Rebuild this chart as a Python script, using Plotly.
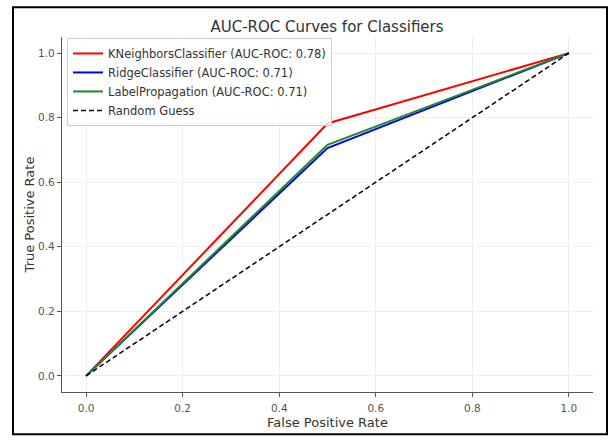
import plotly.graph_objects as go

# Data
classifiers = ["KNeighborsClassifier", "RidgeClassifier", "LabelPropagation"]
auc_scores = [0.78, 0.71, 0.71]
fpr_values = [
    [0.0, 0.5, 1.0],
    [0.0, 0.5, 1.0],
    [0.0, 0.5, 1.0],
]
tpr_values = [
    [0.0, 0.782, 1.0],
    [0.0, 0.706, 1.0],
    [0.0, 0.716, 1.0],
]
colors = ["#ff0000", "#0000ff", "#1f8a1f"]
random_x = [0.0, 1.0]
random_y = [0.0, 1.0]
tick_vals = [0.0, 0.2, 0.4, 0.6, 0.8, 1.0]

fig = go.Figure()
for name, auc, fx, ty, c in zip(classifiers, auc_scores, fpr_values, tpr_values, colors):
    fig.add_trace(go.Scatter(
        x=fx, y=ty, mode="lines",
        name=f"{name} (AUC-ROC: {auc:.2f})",
        line=dict(color=c, width=2),
    ))
fig.add_trace(go.Scatter(
    x=random_x, y=random_y, mode="lines", name="Random Guess",
    line=dict(color="black", width=1.5, dash="5px,3px"),
))

# plot area pixels: x 62..593, y 37..406
L, R, T, B = 62, 17, 37, 34
W, H = 610, 440
pw, ph = W - L - R, H - T - B

def px2paper_x(px):
    return (px - L) / pw

def py2paper_y(py):
    return (H - B - py) / ph

axis_common = dict(
    range=[-0.05, 1.05],
    tickvals=tick_vals,
    tickformat=".1f",
    showgrid=True,
    gridcolor="#efefef",
    gridwidth=1,
    zeroline=False,
    showline=True,
    linecolor="#555555",
    linewidth=1.3,
    ticks="outside",
    ticklen=4,
    tickcolor="#555555",
    tickfont=dict(size=10.5, color="#555555"),
)

fig.update_layout(
    width=W, height=H,
    margin=dict(l=L, r=R, t=T, b=B),
    paper_bgcolor="white",
    plot_bgcolor="white",
    font=dict(family="DejaVu Sans", color="#333333"),
    title=dict(
        text="AUC-ROC Curves for Classifiers",
        x=px2paper_x(327), xref="paper", xanchor="center",
        y=1 - 27 / H, yanchor="middle",
        font=dict(size=15, color="#333333"),
    ),
    xaxis=dict(axis_common, ticklabelstandoff=2,
               title=dict(text="False Positive Rate", font=dict(size=13, color="#333333"), standoff=5)),
    yaxis=dict(axis_common, title=dict(text="True Positive Rate", font=dict(size=13, color="#333333"), standoff=0)),
    legend=dict(
        x=px2paper_x(67), y=py2paper_y(38),
        xanchor="left", yanchor="top",
        bgcolor="rgba(255,255,255,0.8)",
        bordercolor="#cccccc", borderwidth=1,
        font=dict(size=11.5, color="#333333"),
        tracegroupgap=0,
    ),
    showlegend=True,
    shapes=[dict(
        type="rect", xref="paper", yref="paper",
        x0=px2paper_x(13), x1=px2paper_x(607),
        y0=py2paper_y(450), y1=py2paper_y(6),
        line=dict(color="black", width=2),
        fillcolor="rgba(0,0,0,0)",
        layer="above",
    )],
)

fig.write_html("out.html")
